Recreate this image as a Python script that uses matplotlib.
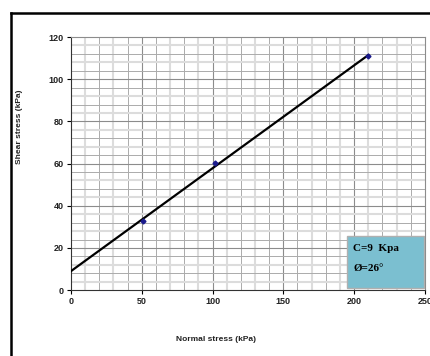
import matplotlib
matplotlib.use("Agg")
import matplotlib.pyplot as plt
from matplotlib.lines import Line2D
from matplotlib.patches import Rectangle
import numpy as np

# measured points (normal stress, shear stress) in kPa
normal_stress = [51, 102, 210]
shear_stress = [33, 60.5, 111]

# fitted Mohr-Coulomb envelope
cohesion = 9
phi_deg = 26
fit_x = [0, 210]
fit_y = [cohesion + x * np.tan(np.radians(phi_deg)) for x in fit_x]

x_ticks = [0, 50, 100, 150, 200, 250]
y_ticks = [0, 20, 40, 60, 80, 100, 120]

plt.rcParams['font.family'] = ['Liberation Sans', 'DejaVu Sans']

fig = plt.figure(figsize=(4.30, 3.56), dpi=100)
ax = fig.add_axes([0.165, 0.185, 0.823, 0.711])

# grid lines (Excel-like)
for i, x in enumerate(np.arange(10, 250, 10)):
    if x % 50 == 0:
        ax.axvline(x, color='#8c8c8c', lw=0.8, zorder=0)
    elif i % 2 == 0:
        ax.axvline(x, color='#dcdcdc', lw=1.5, zorder=0)
    else:
        ax.axvline(x, color='#ababab', lw=0.7, zorder=0)
for i, y in enumerate(np.arange(4, 120, 4)):
    if y % 20 == 0:
        ax.axhline(y, color='#8c8c8c', lw=0.8, zorder=0)
    elif i % 2 == 0:
        ax.axhline(y, color='#dcdcdc', lw=1.5, zorder=0)
    else:
        ax.axhline(y, color='#ababab', lw=0.7, zorder=0)

ax.plot(fit_x, fit_y, color='black', lw=1.6, zorder=3)
ax.plot(normal_stress, shear_stress, linestyle='none', marker='D', ms=2.5,
        color='#1a1a8c', zorder=4)

ax.set_xlim(0, 250)
ax.set_ylim(0, 120)
ax.set_xticks(x_ticks)
ax.set_yticks(y_ticks)
ax.tick_params(labelsize=6.5, length=3, width=0.8, pad=2)
for lbl in ax.get_xticklabels() + ax.get_yticklabels():
    lbl.set_fontweight('bold')
    lbl.set_color('#222222')

ax.spines['left'].set_color('#333333')
ax.spines['bottom'].set_color('#333333')
ax.spines['top'].set_color('#8c8c8c')
ax.spines['right'].set_color('#8c8c8c')

ax.set_xlabel('Normal stress (kPa)', fontsize=6, fontweight='bold', color='#222222')
ax.set_ylabel('Shear stress (kPa)', fontsize=6, fontweight='bold', color='#222222')
ax.xaxis.set_label_coords(0.41, -0.18)
ax.yaxis.set_label_coords(-0.135, 0.645)

# result box
ax.add_patch(Rectangle((0.78, 0.008), 0.2175, 0.205, transform=ax.transAxes,
                       facecolor='#7bbfd0', edgecolor='#b0b0b0', lw=1, zorder=5))
ax.text(0.797, 0.165, 'C=9  Kpa', transform=ax.transAxes, fontsize=8,
        fontweight='bold', family=['Liberation Serif', 'DejaVu Serif'], va='center', zorder=6)
ax.text(0.797, 0.085, 'Ø=26°', transform=ax.transAxes, fontsize=8,
        fontweight='bold', family=['Liberation Serif', 'DejaVu Serif'], va='center', zorder=6)

# outer frame of the chart area
fig.add_artist(Line2D([11 / 430, 1.0], [1 - 13 / 356, 1 - 13 / 356],
                      transform=fig.transFigure, color='black', lw=1.8))
fig.add_artist(Line2D([11 / 430, 11 / 430], [0, 1 - 13 / 356],
                      transform=fig.transFigure, color='black', lw=1.8))

fig.savefig('out.png', dpi=100)
